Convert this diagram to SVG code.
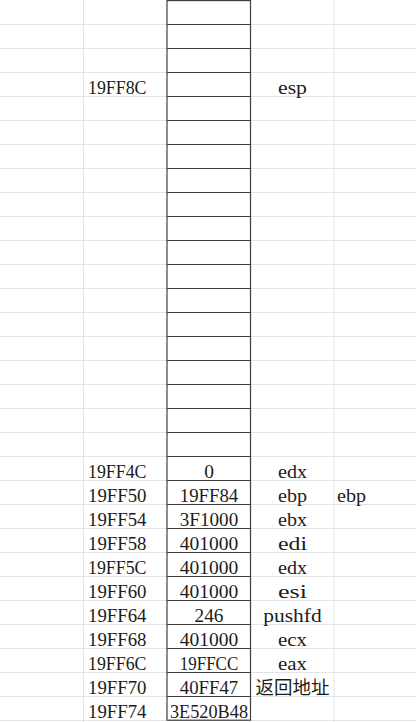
<svg xmlns="http://www.w3.org/2000/svg" width="416" height="722" viewBox="0 0 416 722">
<style>
.g{stroke:#e3e3e3;stroke-width:1;fill:none}
.b{stroke:#404040;stroke-width:1.2;fill:none}
.a{text-anchor:start}
.v,.r{text-anchor:middle}
</style>
<rect width="416" height="722" fill="#fff"/>
<g id="grid">
<path class="g" d="M0 24.5H416M0 48.5H416M0 72.5H416M0 96.5H416M0 120.5H416M0 144.5H416M0 168.5H416M0 192.5H416M0 216.5H416M0 240.5H416M0 264.5H416M0 288.5H416M0 312.5H416M0 336.5H416M0 360.5H416M0 384.5H416M0 408.5H416M0 432.5H416M0 456.5H416M0 480.5H416M0 504.5H416M0 528.5H416M0 552.5H416M0 576.5H416M0 600.5H416M0 624.5H416M0 648.5H416M0 672.5H416M0 696.5H416M0 720.5H416M83.5 0V722M334 0V722"/>
</g>
<g id="stack">
<rect class="b" x="167" y="0.6" width="83.5" height="719.6" fill="#fff"/>
<path class="b" d="M167 24.5H250.5M167 48.5H250.5M167 72.5H250.5M167 96.5H250.5M167 120.5H250.5M167 144.5H250.5M167 168.5H250.5M167 192.5H250.5M167 216.5H250.5M167 240.5H250.5M167 264.5H250.5M167 288.5H250.5M167 312.5H250.5M167 336.5H250.5M167 360.5H250.5M167 384.5H250.5M167 408.5H250.5M167 432.5H250.5M167 456.5H250.5M167 480.5H250.5M167 504.5H250.5M167 528.5H250.5M167 552.5H250.5M167 576.5H250.5M167 600.5H250.5M167 624.5H250.5M167 648.5H250.5M167 672.5H250.5M167 696.5H250.5"/>
</g>
<g id="labels" font-family="Liberation Serif, serif" font-size="19.5" fill="#1c1c1c">
<g id="row-19FF8C"><text class="a" x="88" y="93.5" textLength="58.5" lengthAdjust="spacingAndGlyphs">19FF8C</text><text class="r" x="292.5" y="93.5" textLength="29" lengthAdjust="spacingAndGlyphs">esp</text></g>
<g id="row-19FF4C"><text class="a" x="88" y="477.5" textLength="58.5" lengthAdjust="spacingAndGlyphs">19FF4C</text><text class="v" x="209" y="477.5">0</text><text class="r" x="292.5" y="477.5" textLength="29" lengthAdjust="spacingAndGlyphs">edx</text></g>
<g id="row-19FF50"><text class="a" x="88" y="501.5" textLength="58.5" lengthAdjust="spacingAndGlyphs">19FF50</text><text class="v" x="209" y="501.5" textLength="58.5" lengthAdjust="spacingAndGlyphs">19FF84</text><text class="r" x="292.5" y="501.5" textLength="29" lengthAdjust="spacingAndGlyphs">ebp</text><text class="a" x="337" y="501.5" textLength="29" lengthAdjust="spacingAndGlyphs">ebp</text></g>
<g id="row-19FF54"><text class="a" x="88" y="525.5" textLength="58.5" lengthAdjust="spacingAndGlyphs">19FF54</text><text class="v" x="209" y="525.5" textLength="58.5" lengthAdjust="spacingAndGlyphs">3F1000</text><text class="r" x="292.5" y="525.5" textLength="29" lengthAdjust="spacingAndGlyphs">ebx</text></g>
<g id="row-19FF58"><text class="a" x="88" y="549.5" textLength="58.5" lengthAdjust="spacingAndGlyphs">19FF58</text><text class="v" x="209" y="549.5" textLength="58.5" lengthAdjust="spacingAndGlyphs">401000</text><text class="r" x="292.5" y="549.5" textLength="29" lengthAdjust="spacingAndGlyphs">edi</text></g>
<g id="row-19FF5C"><text class="a" x="88" y="573.5" textLength="58.5" lengthAdjust="spacingAndGlyphs">19FF5C</text><text class="v" x="209" y="573.5" textLength="58.5" lengthAdjust="spacingAndGlyphs">401000</text><text class="r" x="292.5" y="573.5" textLength="29" lengthAdjust="spacingAndGlyphs">edx</text></g>
<g id="row-19FF60"><text class="a" x="88" y="597.5" textLength="58.5" lengthAdjust="spacingAndGlyphs">19FF60</text><text class="v" x="209" y="597.5" textLength="58.5" lengthAdjust="spacingAndGlyphs">401000</text><text class="r" x="292.5" y="597.5" textLength="29" lengthAdjust="spacingAndGlyphs">esi</text></g>
<g id="row-19FF64"><text class="a" x="88" y="621.5" textLength="58.5" lengthAdjust="spacingAndGlyphs">19FF64</text><text class="v" x="209" y="621.5" textLength="29" lengthAdjust="spacingAndGlyphs">246</text><text class="r" x="292.5" y="621.5" textLength="58.5" lengthAdjust="spacingAndGlyphs">pushfd</text></g>
<g id="row-19FF68"><text class="a" x="88" y="645.5" textLength="58.5" lengthAdjust="spacingAndGlyphs">19FF68</text><text class="v" x="209" y="645.5" textLength="58.5" lengthAdjust="spacingAndGlyphs">401000</text><text class="r" x="292.5" y="645.5" textLength="29" lengthAdjust="spacingAndGlyphs">ecx</text></g>
<g id="row-19FF6C"><text class="a" x="88" y="669.5" textLength="58.5" lengthAdjust="spacingAndGlyphs">19FF6C</text><text class="v" x="209" y="669.5" textLength="58.5" lengthAdjust="spacingAndGlyphs">19FFCC</text><text class="r" x="292.5" y="669.5" textLength="29" lengthAdjust="spacingAndGlyphs">eax</text></g>
<g id="row-19FF70"><text class="a" x="88" y="693.5" textLength="58.5" lengthAdjust="spacingAndGlyphs">19FF70</text><text class="v" x="209" y="693.5" textLength="58.5" lengthAdjust="spacingAndGlyphs">40FF47</text><text class="r" x="292.5" y="693.5" font-family="Noto Sans CJK SC, sans-serif" font-size="18.5">返回地址</text></g>
<g id="row-19FF74"><text class="a" x="88" y="717.5" textLength="58.5" lengthAdjust="spacingAndGlyphs">19FF74</text><text class="v" x="209" y="717.5" textLength="78" lengthAdjust="spacingAndGlyphs">3E520B48</text></g>
</g>
</svg>
